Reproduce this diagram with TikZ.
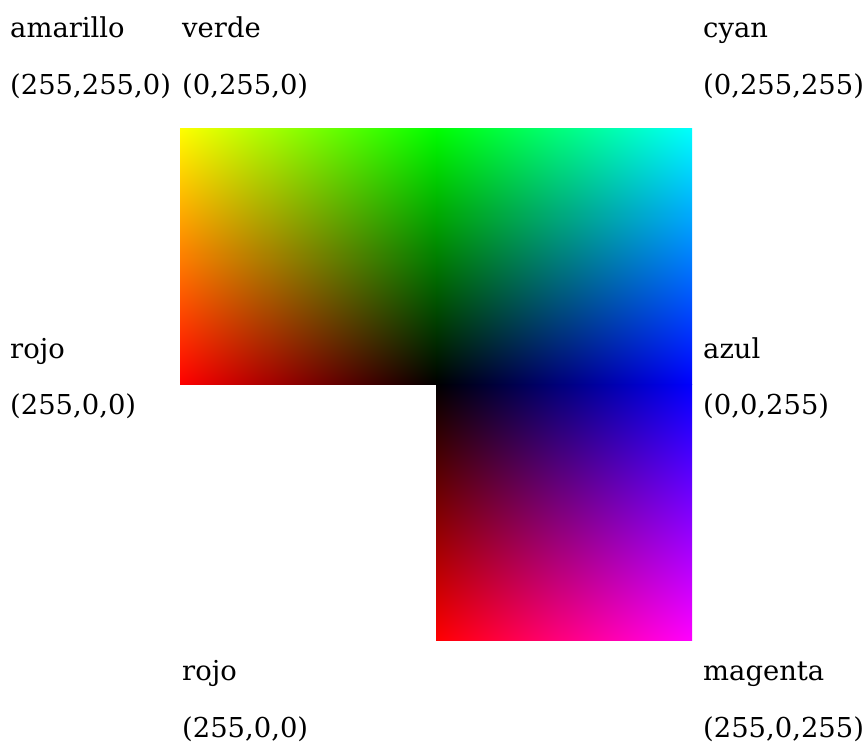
\documentclass[tikz,border=0pt]{standalone}
\usepackage{fontspec}
\setmainfont{DejaVu Serif}
\pgfdeclarefunctionalshading{sqTL}{\pgfpointorigin}{\pgfpoint{100bp}{100bp}}{}{
  exch 25 sub 50 div neg 1 add exch 25 sub 50 div 0
}
\pgfdeclarefunctionalshading{sqTR}{\pgfpointorigin}{\pgfpoint{100bp}{100bp}}{}{
  25 sub 50 div exch 25 sub 50 div 0 3 1 roll
}
\pgfdeclarefunctionalshading{sqBR}{\pgfpointorigin}{\pgfpoint{100bp}{100bp}}{}{
  25 sub 50 div neg 1 add exch 25 sub 50 div 0 exch
}
\tikzset{lbl/.style={anchor=base west, inner sep=0pt, font=\fontsize{27.4}{30}\selectfont, text=black}}
\begin{document}
\begin{tikzpicture}[x=1pt,y=-1pt]
\useasboundingbox[fill=white] (0,0) rectangle (865,745);
\shade[shading=sqTL] (180,128) rectangle (436.5,384);
\shade[shading=sqTR] (436,128) rectangle (692,384.5);
\shade[shading=sqBR] (436,384) rectangle (692,640);
\node[lbl] (amarillo) at (10,37) {amarillo};
\node[lbl] (amarilloRGB) at (10,94) {(255,255,0)};
\node[lbl] (verde) at (182,37) {verde};
\node[lbl] (verdeRGB) at (182,94) {(0,255,0)};
\node[lbl] (cyan) at (703,37) {cyan};
\node[lbl] (cyanRGB) at (703,94) {(0,255,255)};
\node[lbl] (rojoA) at (10,358) {rojo};
\node[lbl] (rojoARGB) at (10,414) {(255,0,0)};
\node[lbl] (azul) at (703,358) {azul};
\node[lbl] (azulRGB) at (703,414) {(0,0,255)};
\node[lbl] (rojoB) at (182,680) {rojo};
\node[lbl] (rojoBRGB) at (182,737) {(255,0,0)};
\node[lbl] (magenta) at (703,680) {magenta};
\node[lbl] (magentaRGB) at (703,737) {(255,0,255)};
\end{tikzpicture}
\end{document}
